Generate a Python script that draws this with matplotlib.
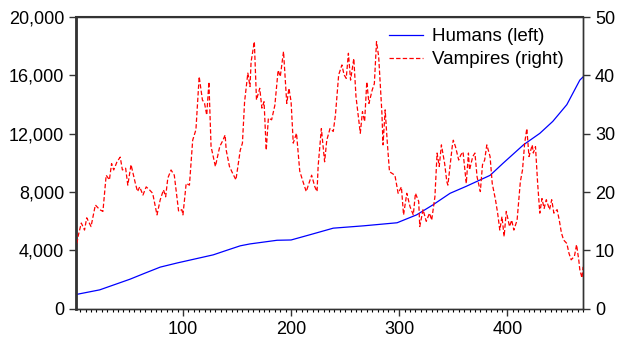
import matplotlib
matplotlib.use("Agg")
import matplotlib.pyplot as plt
from matplotlib.ticker import FuncFormatter, MultipleLocator

plt.rcParams['font.family'] = ['Liberation Sans', 'DejaVu Sans']

# Humans (left axis)
hum_t = [1, 23, 51, 65, 79, 95, 110, 128, 140, 153, 162, 171, 187, 200, 217,
         239, 267, 298, 316, 331, 347, 362, 384, 396, 415, 430, 442, 455, 467,
         470]
hum_v = [980, 1300, 2030, 2450, 2860, 3150, 3400, 3700, 4000, 4320, 4450,
         4540, 4700, 4720, 5070, 5530, 5690, 5900, 6440, 7120, 7920, 8400,
         9150, 9980, 11250, 12030, 12850, 14000, 15680, 15900]

# Vampires (right axis)
vam_t = [1, 3, 6, 9, 11, 15, 19, 23, 26, 29, 32, 34, 36, 39, 42, 44, 47, 49,
         52, 56, 58, 60, 63, 66, 69, 72, 76, 79, 82, 84, 86, 89, 92, 96, 99,
         100, 103, 106, 109, 112, 115, 118, 120, 122, 124, 126, 130, 134, 137,
         139, 140, 143, 146, 149, 153, 155, 157, 160, 162, 163, 166, 168, 171,
         173, 175, 177, 179, 182, 185, 188, 190, 193, 196, 198, 200, 202, 205,
         208, 211, 214, 219, 222, 224, 225, 228, 231, 233, 236, 239, 241, 244,
         247, 249, 251, 253, 255, 258, 260, 264, 266, 268, 270, 272, 275, 277,
         279, 281, 284, 285, 287, 289, 291, 296, 299, 302, 304, 307, 310, 313,
         315, 318, 319, 322, 325, 328, 330, 333, 335, 337, 339, 342, 344, 345,
         349, 350, 352, 355, 357, 359, 362, 364, 365, 368, 370, 372, 375, 377,
         379, 381, 384, 386, 389, 391, 393, 395, 397, 399, 402, 404, 406, 409,
         412, 414, 416, 418, 420, 423, 424, 426, 428, 430, 432, 434, 436, 439,
         441, 443, 446, 448, 450, 452, 455, 457, 459, 462, 464, 466, 467, 469,
         470]
vam_v = [10.1, 12.4, 14.7, 13.5, 15.6, 14.1, 17.8, 17.0, 16.7, 22.9, 22.1,
         24.9, 23.8, 25.2, 26.0, 23.8, 24.1, 21.2, 24.7, 21.5, 20.1, 20.9,
         19.5, 20.9, 20.4, 19.8, 16.1, 18.7, 20.4, 19.2, 22.4, 23.8, 22.9,
         16.7, 17.0, 16.1, 21.5, 21.2, 28.9, 30.7, 39.8, 35.8, 35.2, 33.2,
         38.9, 27.8, 24.4, 27.8, 28.9, 29.8, 27.2, 24.4, 23.2, 22.1, 27.2,
         28.4, 35.5, 40.4, 38.1, 42.3, 45.8, 35.8, 37.8, 34.4, 35.5, 27.2,
         32.7, 32.4, 34.9, 40.9, 39.8, 44.1, 35.2, 37.8, 35.5, 28.4, 30.1,
         23.6, 21.8, 20.1, 22.9, 20.9, 20.1, 24.4, 30.9, 25.2, 28.9, 30.9,
         30.4, 33.2, 40.1, 41.8, 40.1, 39.5, 43.8, 39.2, 42.9, 36.4, 30.1,
         33.8, 32.1, 38.9, 35.2, 37.5, 38.6, 45.8, 43.2, 33.5, 28.1, 34.1,
         28.4, 23.5, 22.9, 19.8, 20.9, 16.1, 19.8, 17.5, 16.1, 19.8, 18.4,
         14.1, 17.0, 15.0, 16.4, 15.2, 19.2, 26.7, 24.4, 28.1, 24.9, 21.8,
         21.2, 27.8, 28.9, 27.8, 25.5, 26.4, 26.9, 21.5, 26.7, 23.8, 26.1,
         26.7, 22.6, 20.1, 24.7, 25.5, 28.1, 26.1, 21.5, 18.7, 16.4, 13.5,
         15.8, 12.4, 16.7, 14.1, 15.2, 13.5, 15.2, 21.8, 23.8, 28.4, 30.9,
         26.1, 28.1, 26.7, 27.8, 21.5, 16.4, 18.9, 17.2, 18.7, 17.0, 18.7,
         16.4, 17.0, 15.2, 13.0, 11.8, 11.2, 9.5, 8.4, 9.0, 11.0, 8.4, 6.7,
         5.3, 7.2]

fig, ax = plt.subplots(figsize=(6.17, 3.42), dpi=100)
fig.subplots_adjust(left=0.123, right=0.945, top=0.95, bottom=0.097)
ax2 = ax.twinx()

l1, = ax.plot(hum_t, hum_v, color='#0000ff', lw=0.9, label='Humans (left)')
l2, = ax2.plot(vam_t, vam_v, color='#ff0000', lw=0.9, ls=(0, (3.5, 1.8)),
               label='Vampires (right)')

ax.set_xlim(1, 470)
ax.set_ylim(0, 20000)
ax2.set_ylim(0, 50)
ax.set_yticks([0, 4000, 8000, 12000, 16000, 20000])
ax.yaxis.set_major_formatter(FuncFormatter(lambda v, p: f"{int(v):,}"))
ax2.set_yticks([0, 10, 20, 30, 40, 50])
ax.set_xticks([100, 200, 300, 400])
ax.xaxis.set_minor_locator(MultipleLocator(5))

for a in (ax, ax2):
    for s in a.spines.values():
        s.set_color('#333333')
        s.set_linewidth(1.0)
ax.spines['left'].set_linewidth(2.0)
ax.spines['top'].set_linewidth(1.5)

ax.tick_params(axis='both', labelsize=13, colors='#333333', labelcolor='black',
               direction='out')
ax.tick_params(axis='x', which='major', length=5, width=1)
ax.tick_params(axis='x', which='minor', length=2.5, width=0.8)
ax.tick_params(axis='y', length=5, width=1)
ax2.tick_params(axis='y', labelsize=13, length=5, width=1, colors='#333333',
                labelcolor='black')

leg = ax.legend(handles=[l1, l2], loc='upper right', frameon=False,
                fontsize=13.5, handlelength=1.8, handletextpad=0.5,
                borderaxespad=0.2, labelspacing=0.3,
                bbox_to_anchor=(0.985, 1.0))

fig.savefig('out.png', dpi=100)
